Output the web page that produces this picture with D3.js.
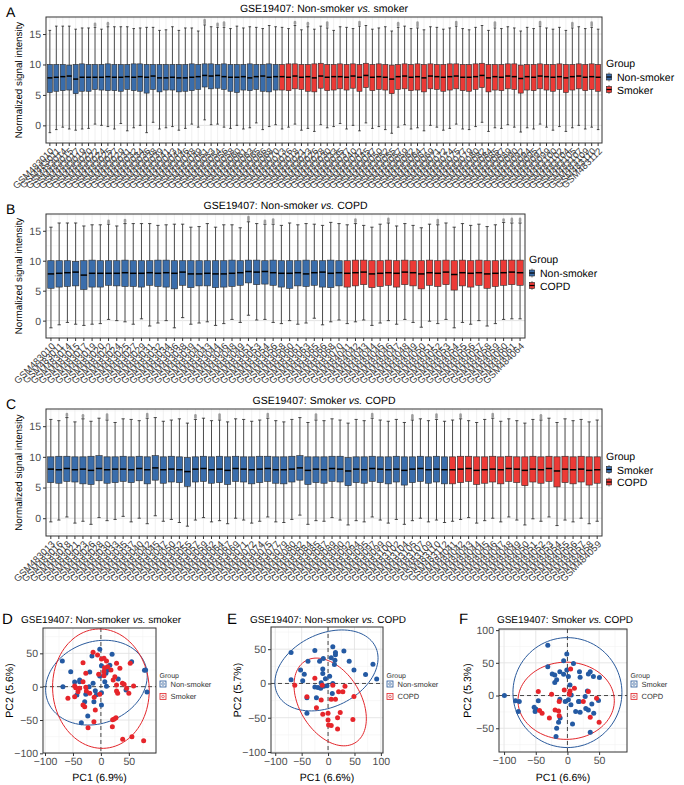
<!DOCTYPE html>
<html>
<head>
<meta charset="utf-8">
<script src="https://cdn.jsdelivr.net/npm/d3@7"></script>
<style>
  body { margin: 0; background: #fff; -webkit-font-smoothing: antialiased; }
  svg text { font-family: "Liberation Sans", Arial, sans-serif; text-rendering: geometricPrecision; }
</style>
</head>
<body>
<div id="chart"></div>
<script>
// ---- sample ids ----
var nonSmokerIds = ["GSM483010","GSM483011","GSM483014","GSM483015","GSM483017","GSM483019","GSM483020","GSM483022","GSM483024","GSM483025",
  "GSM483027","GSM483029","GSM483031","GSM483032","GSM483034","GSM483036","GSM483038","GSM483039","GSM483041","GSM483043",
  "GSM483044","GSM483046","GSM483048","GSM483049","GSM483051","GSM483053","GSM483054","GSM483056","GSM483058","GSM483060",
  "GSM483061","GSM483063","GSM483065","GSM483066","GSM483068","GSM483070"];
var smokerIds = ["GSM483013","GSM483016","GSM483018","GSM483021","GSM483023","GSM483026","GSM483028","GSM483030","GSM483033","GSM483035",
  "GSM483037","GSM483040","GSM483042","GSM483045","GSM483047","GSM483050","GSM483052","GSM483055","GSM483057","GSM483059",
  "GSM483062","GSM483064","GSM483067","GSM483069","GSM483071","GSM483072","GSM483074","GSM483075","GSM483077","GSM483079",
  "GSM483080","GSM483082","GSM483084","GSM483085","GSM483087","GSM483089","GSM483090","GSM483092","GSM483094","GSM483095",
  "GSM483097","GSM483099","GSM483100","GSM483102","GSM483104","GSM483105","GSM483107","GSM483109","GSM483110","GSM483112"];
var copdIds = ["GSM484041","GSM484042","GSM484043","GSM484044","GSM484045","GSM484046","GSM484047","GSM484048","GSM484049","GSM484050",
  "GSM484051","GSM484052","GSM484053","GSM484054","GSM484055","GSM484056","GSM484057","GSM484058","GSM484059","GSM484060",
  "GSM484061","GSM484064"];
var copdInPanelC = 19; // panel C shows fewer COPD arrays

// ---- box stats per sample (median, Q1, Q3, whisker low, whisker high, top outlier) ----
var nsMed = [7.8,7.9,8.0,8.1,7.6,7.9,7.9,7.9,7.9,8.0, 7.9,7.9,8.0,7.9,8.0,7.9,8.1,7.8,7.8,7.9, 7.8,7.8,7.9,8.0,8.2,8.1,8.2,8.0,7.9,7.9, 8.0,7.8,8.0,8.1,7.9,8.0];
var nsQ1  = [5.4,5.6,5.7,5.8,5.2,5.6,5.6,5.9,5.8,5.7, 5.7,5.6,5.9,5.7,5.6,5.3,5.9,5.5,5.8,5.8, 5.5,5.6,5.7,5.9,6.3,6.0,6.1,5.9,5.6,5.4, 5.8,5.7,5.9,5.6,5.5,5.8];
var nsQ3  = [10.0,10.0,10.0,9.9,10.0,10.1,10.0,10.0,10.0,10.1, 10.0,10.0,10.0,10.1,10.1,10.0,10.0,10.0,10.0,10.0, 10.0,10.0,10.1,10.0,10.1,10.1,10.0,10.1,10.0,10.0, 10.0,10.1,10.0,10.0,10.1,10.0];
var nsLo  = [-1.2,-0.7,-0.3,-0.6,-0.8,-0.6,-0.5,0.2,0.0,-0.2, -0.6,0.3,-0.9,-0.4,0.0,-1.2,0.5,-0.6,-0.4,-0.2, -0.8,-0.5,0.2,-0.3,0.9,0.1,0.2,-0.3,-0.5,0.0, -0.6,-0.4,0.4,-0.7,-0.2,0.1];
var nsHi  = [15.6,16.3,16.3,16.3,15.8,16.0,16.0,16.1,15.8,16.2, 16.2,16.2,16.2,15.9,16.0,16.1,16.1,15.6,15.7,16.2, 15.6,16.0,16.0,15.5,16.5,16.2,16.1,16.1,15.9,16.3, 16.0,16.2,16.1,15.9,16.4,16.2];
var nsOut = [0,0,0,0,0,0,0,16.6,0,16.7, 0,0,0,0,0,0,0,0,0,0, 0,0,0,0,17.2,0,16.6,16.8,0,0, 0,0,0,0,0,0];

var smMed = [8.0,7.9,8.1,7.9,8.0,7.8,8.1,7.9,8.0,8.0, 7.9,8.1,7.9,8.2,7.9,8.0,7.9,7.6,8.0,8.1, 7.9,8.0,7.8,8.1,8.0,7.9,8.0,8.1,7.9,7.9, 8.0,8.2,7.8,8.0,7.9,8.1,8.0,7.7,8.0,7.9, 8.1,8.0,7.9,8.0,7.8,8.0,8.1,7.9,8.0,7.9];
var smQ1  = [5.8,5.7,6.0,5.9,5.6,5.5,6.1,5.7,5.8,6.0, 5.8,6.1,5.6,6.2,5.7,5.9,5.8,5.2,5.9,6.0, 5.7,5.8,5.5,6.0,5.9,5.6,5.8,6.0,5.7,5.6, 5.9,6.2,5.5,5.8,5.7,6.0,5.9,5.3,5.8,5.7, 6.0,5.8,5.6,5.9,5.4,5.8,6.0,5.7,5.9,5.6];
var smQ3  = [10.0,10.1,10.1,10.0,10.0,10.1,10.2,10.0,10.0,10.1, 10.0,10.1,10.0,10.2,10.0,10.1,10.0,9.9,10.0,10.1, 10.0,10.1,10.0,10.1,10.0,10.0,10.1,10.1,10.0,10.0, 10.1,10.2,10.0,10.0,10.0,10.1,10.1,9.9,10.0,10.0, 10.1,10.0,10.0,10.1,10.0,10.0,10.1,10.0,10.1,10.0];
var smLo  = [-0.6,-0.3,0.2,-0.8,-0.5,-1.0,0.1,-0.4,-0.2,0.3, -0.6,0.0,-0.9,0.4,-0.5,-0.2,-0.7,-1.3,-0.3,0.1, -0.6,-0.4,-0.9,0.0,-0.3,-0.8,-0.5,0.2,-0.6,-0.7, -0.2,0.5,-1.0,-0.4,-0.5,0.1,-0.3,-1.1,-0.4,-0.6, 0.2,-0.3,-0.8,-0.2,-1.0,-0.4,0.0,-0.6,-0.3,-0.7];
var smHi  = [16.1,15.9,16.4,15.7,16.2,15.8,16.3,16.0,15.6,16.2, 16.1,15.9,16.3,16.4,15.8,16.0,16.2,15.5,16.1,16.3, 15.9,16.0,15.7,16.2,16.1,15.8,16.0,16.3,15.9,15.7, 16.1,16.4,15.6,16.0,15.9,16.2,16.0,15.5,16.1,15.9, 16.3,16.0,15.8,16.1,15.6,16.0,16.2,15.9,16.1,15.8];
var smOut = [0,0,16.9,0,16.7,0,0,16.8,0,0, 0,0,16.9,0,0,0,0,0,16.7,0, 0,16.8,0,0,0,0,0,16.9,0,0, 0,0,0,16.8,0,0,0,0,0,0, 16.9,0,0,0,0,16.7,0,0,16.8,0];

var cpMed = [7.9,8.0,8.1,7.8,7.9,8.0,7.9,8.1,8.0,7.8, 8.0,7.9,8.1,7.7,8.0,7.9,8.0,7.8,7.9,8.0, 8.1,8.0];
var cpQ1  = [5.6,5.8,6.0,5.5,5.7,5.9,5.6,6.0,5.8,5.3, 5.9,5.7,6.0,5.1,5.8,5.6,5.9,5.4,5.7,5.9, 6.0,5.9];
var cpQ3  = [10.0,10.1,10.1,10.0,10.0,10.1,10.0,10.1,10.0,10.0, 10.1,10.0,10.1,10.0,10.1,10.0,10.1,10.0,10.0,10.1, 10.1,10.1];
var cpLo  = [-0.5,-0.2,0.1,-0.8,-0.4,0.0,-0.6,0.2,-0.3,-1.1, -0.1,-0.5,0.2,-1.2,-0.3,-0.6,0.0,-0.9,-0.5,0.2, 0.3,0.3];
var cpHi  = [16.0,16.2,15.9,15.6,16.1,16.3,15.8,16.2,15.9,15.5, 16.1,16.0,16.3,15.6,16.2,15.9,16.1,15.7,16.0,16.4, 16.3,16.3];
var cpOut = [0,16.8,0,0,0,16.9,0,0,0,0, 0,16.7,0,0,0,0,0,0,0,16.8, 16.9,16.9];

var boxYTicks = [0, 5, 10, 15];
var boxYMinor = [-2.5, 2.5, 7.5, 12.5, 17.5];

// ---- PCA scores (PC1, PC2) ----
var pcaDNonSmoker = [[-69,38.5],[-2,56],[-16,46],[20,48.5],[1,31.5],[7,25],[13,25],[-54,22.5],[-38,10],[-38,7.5],
  [-68,0],[-43,-12.5],[-27,-11.5],[-35,-54],[-23.5,-44],[1,-27.5],[1,-9],[-14,5],[-12.5,-22.5],[-29,-22.5],
  [55,37.5],[78,24.5],[82.5,-8],[45,-5],[31,11.5],[7,7.5],[10,0.5],[-2,16],[-20,22],[-10,-6],
  [-21,0],[16,32],[-47,7],[-8,-12],[9,20],[80,25]];
var pcaDSmoker = [[-14,51.5],[-6,47.5],[1,41.5],[5.5,42.5],[10,38.5],[-32,36],[-27,20],[-4,18.5],[6.5,28.5],[5.5,16.5],
  [28,35],[52.5,35],[25,15],[28,2.5],[38.5,5],[41.5,3.5],[58.5,1],[50,-10],[28,-6.5],[30,-10],
  [12,30],[18,25],[-59,-17.5],[-47,1],[-45,-1.5],[-38,-2.5],[-41,-7.5],[-27,-1],[-26,-6.5],[-12,-16],
  [-32,-27.5],[-29,-30],[-10,-35],[-12.5,-52.5],[-23,-61.5],[21,-49.5],[27,-46.5],[24,-48.5],[20.5,-60],[39,-79],
  [55.5,-75],[76.5,-81],[-2,-11.5],[-32,7.5],[5.5,22.5],[34,27.5],[-20,-10],[22,10],[-47,-15],[46,-2.5]];
var pcaENonSmoker = [[-70,45],[-38,32.5],[-25,48],[9,53.5],[14,45],[14,42],[6,37.5],[13,34],[12,27.5],[30,47.5],
  [40,32.5],[85,28],[49,19.5],[71,13],[92,6.5],[-52,19.5],[-45,13.5],[-48,4],[-70,5.5],[-10,21],
  [-10,14.5],[-5,7],[-25,-5],[-19,-6],[-14,-7],[-8,-4],[-13,1],[-2,-3.5],[8,-14.5],[-40,-21],
  [-22,-21],[-40,-43.5],[3,10.5],[-16,32.5],[9,0],[-9,36.5]];
var pcaECopd = [[-63,-2.5],[-25,7.5],[-40,-19.5],[-11,-2.5],[9,-2.5],[-13,-24],[-22,-35.5],[-10,-45],[0,-43.5],[0,-53.5],
  [1,-60.5],[6,-61.5],[18,-66.5],[23,-42.5],[18,-50],[20,-12],[28,-12],[14,-23],[6,-23],[32,-4],
  [47,-52.5],[49,-19]];
var pcaFSmoker = [[-31,77],[-1,63.5],[-6,53],[9.5,49],[-1,39],[-31,44],[-24,33],[-20,31.5],[-12,36.5],[-6,32.5],
  [-17,24],[-20,20],[1.5,29],[19,36.5],[33,33],[36,36.5],[41,29],[50.5,27.5],[20,28],[4,16],
  [31.5,7],[6,1],[1.5,-6.5],[5.5,-14],[17.5,-9],[13,-24.5],[20,-25.5],[29,-20],[33,-22],[41.5,-27],
  [49,-7.5],[38.5,-13],[-12,-5.5],[-46,-8],[-49.5,-21],[-51,-24.5],[-76,-9],[-77.5,-24.5],[-82,-8],[-99.5,0],
  [-52.5,-18],[-11.5,-34.5],[-14,-41],[-17,-50],[-18,-62.5],[8,-43.5],[36,-56],[18.5,-9],[28,-1.5],[-3.5,-9]];
var pcaFCopd = [[5,40.5],[-5,8.5],[4,7],[11,11],[-46,6],[-25,2],[33,6],[-44,-23],[-40,-27],[-19.5,-22],
  [-14,-23.5],[-28.5,-34.5],[-13,-31],[3,2],[25,-9],[36,-33],[46,-4],[50,-41],[-13,-9]];

// 95% ellipses: [centre x, centre y, semi-axis a, semi-axis b, angle deg]
var ellDNonSmoker = [-8, 6, 92, 62, 12];
var ellDSmoker    = [0, -3, 90, 86, -70];
var ellENonSmoker = [-3, 19, 100, 55, 15];
var ellECopd      = [4, -27, 78, 52, -40];
var ellFSmoker    = [0, 4.5, 86, 84, 0];
var ellFCopd      = [-2, -8, 76, 59, 0];

var blue = "#3a6dab", red = "#ec3a36";
var ptBlue = "#245aa3", ptRed = "#e6252b";

var svg = d3.select("#chart").append("svg")
  .attr("width", 684)
  .attr("height", 785);

function pack(ids, med, q1, q3, lo, hi, out, grp) {
  return ids.map(function (id, i) {
    return { id: id, grp: grp, med: med[i], q1: q1[i], q3: q3[i], lo: lo[i], hi: hi[i], out: out[i] };
  });
}
var nsBoxes = pack(nonSmokerIds, nsMed, nsQ1, nsQ3, nsLo, nsHi, nsOut, 0);
var smBoxes = pack(smokerIds, smMed, smQ1, smQ3, smLo, smHi, smOut, 0);
var cpBoxes = pack(copdIds, cpMed, cpQ1, cpQ3, cpLo, cpHi, cpOut, 1);

function title(x, y, pre, post, size) {
  var t = svg.append("text")
    .attr("x", x).attr("y", y)
    .attr("text-anchor", "middle")
    .style("font-size", size + "px");
  t.append("tspan").text(pre);
  t.append("tspan").style("font-style", "italic").text("vs.");
  t.append("tspan").text(post);
}

function styleAxis(ax, size, fill) {
  ax.select(".domain").remove();
  ax.selectAll(".tick line").attr("stroke", "#333");
  ax.selectAll(".tick text").attr("fill", fill || "#4d4d4d").style("font-size", size + "px")
    .style("font-family", "'Liberation Sans', Arial, sans-serif");
}

function boxPanel(cfg) {
  var samples = cfg.samples;
  var g = svg.append("g");
  var x = d3.scaleBand()
    .domain(samples.map(function (d) { return d.id; }))
    .range([cfg.left, cfg.right])
    .paddingInner(0)
    .paddingOuter(0.1);
  var y = d3.scaleLinear().domain([-2.9, 17.8]).range([cfg.bottom, cfg.top]);
  var bw = x.step();
  var cx = function (d) { return x(d.id) + bw / 2; };
  var col = function (d) { return d.grp === 0 ? cfg.colors[0] : cfg.colors[1]; };

  // grid
  g.selectAll(".minor").data(boxYMinor).join("line")
    .attr("x1", cfg.left).attr("x2", cfg.right)
    .attr("y1", function (d) { return y(d); }).attr("y2", function (d) { return y(d); })
    .attr("stroke", "#f0f0f0").attr("stroke-width", 0.6);
  g.selectAll(".major").data(boxYTicks).join("line")
    .attr("x1", cfg.left).attr("x2", cfg.right)
    .attr("y1", function (d) { return y(d); }).attr("y2", function (d) { return y(d); })
    .attr("stroke", "#e3e3e3").attr("stroke-width", 1);
  g.selectAll(".vgrid").data(samples).join("line")
    .attr("x1", cx).attr("x2", cx)
    .attr("y1", cfg.top).attr("y2", cfg.bottom)
    .attr("stroke", "#ececec").attr("stroke-width", 0.8);

  var b = g.selectAll(".bx").data(samples).join("g");
  // outliers
  b.filter(function (d) { return d.out > 0; }).append("rect")
    .attr("x", function (d) { return cx(d) - 1.3; })
    .attr("width", 2.6)
    .attr("y", function (d) { return y(d.out + 0.3); })
    .attr("height", function (d) { return y(d.hi + 0.1) - y(d.out + 0.3); })
    .attr("rx", 1.3)
    .attr("fill", "#555").attr("fill-opacity", 0.55);
  // whiskers
  b.append("line")
    .attr("x1", cx).attr("x2", cx)
    .attr("y1", function (d) { return y(d.hi); })
    .attr("y2", function (d) { return y(d.lo); })
    .attr("stroke", "#222").attr("stroke-width", 0.8);
  b.append("line")
    .attr("x1", function (d) { return cx(d) - bw * 0.2; })
    .attr("x2", function (d) { return cx(d) + bw * 0.2; })
    .attr("y1", function (d) { return y(d.hi); }).attr("y2", function (d) { return y(d.hi); })
    .attr("stroke", "#222").attr("stroke-width", 0.8);
  b.append("line")
    .attr("x1", function (d) { return cx(d) - bw * 0.2; })
    .attr("x2", function (d) { return cx(d) + bw * 0.2; })
    .attr("y1", function (d) { return y(d.lo); }).attr("y2", function (d) { return y(d.lo); })
    .attr("stroke", "#222").attr("stroke-width", 0.8);
  b.append("rect")
    .attr("x", function (d) { return cx(d) - bw * 0.39; })
    .attr("width", bw * 0.78)
    .attr("y", function (d) { return y(d.q3); })
    .attr("height", function (d) { return y(d.q1) - y(d.q3); })
    .attr("fill", col)
    .attr("stroke", "#2b2b2b").attr("stroke-width", 0.6);
  b.append("line")
    .attr("x1", function (d) { return cx(d) - bw * 0.39; })
    .attr("x2", function (d) { return cx(d) + bw * 0.39; })
    .attr("y1", function (d) { return y(d.med); }).attr("y2", function (d) { return y(d.med); })
    .attr("stroke", "#000").attr("stroke-width", 1.5);

  g.append("rect")
    .attr("x", cfg.left).attr("y", cfg.top)
    .attr("width", cfg.right - cfg.left).attr("height", cfg.bottom - cfg.top)
    .attr("fill", "none").attr("stroke", "#333").attr("stroke-width", 1);

  var ya = g.append("g").attr("transform", "translate(" + cfg.left + ",0)")
    .call(d3.axisLeft(y).tickValues(boxYTicks).tickSize(3).tickPadding(2));
  styleAxis(ya, 10.5);

  var xa = g.append("g").attr("transform", "translate(0," + cfg.bottom + ")")
    .style("opacity", 0.999)
    .call(d3.axisBottom(x).tickSize(3));
  styleAxis(xa, 9.5, "#3a3a3a");
  xa.selectAll(".tick text")
    .attr("x", 0).attr("y", 0)
    .attr("dy", "0.7em")
    .attr("transform", "translate(0,4) rotate(-45)")
    .style("text-anchor", "end");

  svg.append("text")
    .attr("transform", "translate(22," + (cfg.top + cfg.bottom) / 2 + ") rotate(-90)")
    .attr("text-anchor", "middle")
    .style("font-size", "9.8px")
    .text("Normalized signal intensity");

  title((cfg.left + cfg.right) / 2, cfg.top - 5, cfg.title[0], cfg.title[1], 10.5);
  svg.append("text").attr("x", 6).attr("y", cfg.top).style("font-size", "14px").text(cfg.letter);

  // legend
  var lg = svg.append("g").attr("transform", "translate(" + (cfg.right + 4) + "," + ((cfg.top + cfg.bottom) / 2 - 16) + ")");
  lg.append("text").attr("x", 0).attr("y", 3).style("font-size", "10.5px").text("Group");
  cfg.legend.forEach(function (lab, i) {
    var ky = 13 + i * 12.5;
    var k = lg.append("g").attr("transform", "translate(3," + ky + ")");
    k.append("line").attr("x1", 0).attr("x2", 0).attr("y1", -4.5).attr("y2", 4.5).attr("stroke", "#222").attr("stroke-width", 0.6);
    k.append("rect").attr("x", -2.6).attr("y", -3).attr("width", 5.2).attr("height", 6)
      .attr("fill", cfg.colors[i]).attr("stroke", "#222").attr("stroke-width", 0.6);
    k.append("line").attr("x1", -2.6).attr("x2", 2.6).attr("y1", 0).attr("y2", 0).attr("stroke", "#000").attr("stroke-width", 1.2);
    lg.append("text").attr("x", 11).attr("y", ky + 4).style("font-size", "10.5px").text(lab);
  });
}

boxPanel({
  samples: nsBoxes.concat(smBoxes.map(function (d) { return Object.assign({}, d, { grp: 1 }); })),
  left: 46, right: 602, top: 17, bottom: 143,
  colors: [blue, red], legend: ["Non-smoker", "Smoker"],
  title: ["GSE19407: Non-smoker ", " smoker"], letter: "A"
});
boxPanel({
  samples: nsBoxes.concat(cpBoxes),
  left: 46, right: 525, top: 214, bottom: 338,
  colors: [blue, red], legend: ["Non-smoker", "COPD"],
  title: ["GSE19407: Non-smoker ", " COPD"], letter: "B"
});
boxPanel({
  samples: smBoxes.concat(cpBoxes.slice(0, copdInPanelC)),
  left: 46, right: 602, top: 409, bottom: 536,
  colors: [blue, red], legend: ["Smoker", "COPD"],
  title: ["GSE19407: Smoker ", " COPD"], letter: "C"
});

// ---- PCA panels ----
function minorOf(ticks, dom) {
  var st = ticks[1] - ticks[0], out = [];
  for (var i = -1; i < ticks.length; i++) {
    var v = (i < 0 ? ticks[0] : ticks[i]) + (i < 0 ? -st / 2 : st / 2);
    if (v > dom[0] && v < dom[1]) out.push(v);
  }
  return out;
}

function pcaPanel(cfg) {
  var g = svg.append("g");
  var x = d3.scaleLinear().domain(cfg.xDom).range([cfg.left, cfg.right]);
  var y = d3.scaleLinear().domain(cfg.yDom).range([cfg.bottom, cfg.top]);
  var clipId = "clip" + cfg.letter;
  svg.append("clipPath").attr("id", clipId).append("rect")
    .attr("x", cfg.left).attr("y", cfg.top)
    .attr("width", cfg.right - cfg.left).attr("height", cfg.bottom - cfg.top);

  var xm = minorOf(cfg.xTicks, cfg.xDom), ym = minorOf(cfg.yTicks, cfg.yDom);
  g.selectAll(".xm").data(xm).join("line")
    .attr("x1", x).attr("x2", x).attr("y1", cfg.top).attr("y2", cfg.bottom)
    .attr("stroke", "#f0f0f0").attr("stroke-width", 0.5);
  g.selectAll(".ym").data(ym).join("line")
    .attr("y1", y).attr("y2", y).attr("x1", cfg.left).attr("x2", cfg.right)
    .attr("stroke", "#f0f0f0").attr("stroke-width", 0.5);
  g.selectAll(".xg").data(cfg.xTicks).join("line")
    .attr("x1", x).attr("x2", x).attr("y1", cfg.top).attr("y2", cfg.bottom)
    .attr("stroke", "#e3e3e3").attr("stroke-width", 0.9);
  g.selectAll(".yg").data(cfg.yTicks).join("line")
    .attr("y1", y).attr("y2", y).attr("x1", cfg.left).attr("x2", cfg.right)
    .attr("stroke", "#e3e3e3").attr("stroke-width", 0.9);

  var inner = g.append("g").attr("clip-path", "url(#" + clipId + ")");
  inner.append("line").attr("x1", x(0)).attr("x2", x(0)).attr("y1", cfg.top).attr("y2", cfg.bottom)
    .attr("stroke", "#333").attr("stroke-width", 0.9).attr("stroke-dasharray", "4,3");
  inner.append("line").attr("y1", y(0)).attr("y2", y(0)).attr("x1", cfg.left).attr("x2", cfg.right)
    .attr("stroke", "#333").attr("stroke-width", 0.9).attr("stroke-dasharray", "4,3");

  var line = d3.line().x(function (p) { return x(p[0]); }).y(function (p) { return y(p[1]); });
  cfg.groups.forEach(function (gr) {
    var e = gr.ell, th = e[4] * Math.PI / 180;
    var pts = d3.range(0, 101).map(function (k) {
      var t = k / 100 * 2 * Math.PI;
      return [e[0] + e[2] * Math.cos(t) * Math.cos(th) - e[3] * Math.sin(t) * Math.sin(th),
              e[1] + e[2] * Math.cos(t) * Math.sin(th) + e[3] * Math.sin(t) * Math.cos(th)];
    });
    inner.append("path").attr("d", line(pts)).attr("fill", "none")
      .attr("stroke", gr.line).attr("stroke-width", 1);
  });
  cfg.groups.forEach(function (gr) {
    inner.selectAll(null).data(gr.pts).join("circle")
      .attr("cx", function (p) { return x(p[0]); })
      .attr("cy", function (p) { return y(p[1]); })
      .attr("r", 2.5)
      .attr("fill", gr.color);
  });

  g.append("rect")
    .attr("x", cfg.left).attr("y", cfg.top)
    .attr("width", cfg.right - cfg.left).attr("height", cfg.bottom - cfg.top)
    .attr("fill", "none").attr("stroke", "#333").attr("stroke-width", 1);

  var xa = g.append("g").attr("transform", "translate(0," + cfg.bottom + ")")
    .call(d3.axisBottom(x).tickValues(cfg.xTicks).tickSize(3).tickPadding(2));
  styleAxis(xa, 10.5);
  var ya = g.append("g").attr("transform", "translate(" + cfg.left + ",0)")
    .call(d3.axisLeft(y).tickValues(cfg.yTicks).tickSize(3).tickPadding(2));
  styleAxis(ya, 10.5);

  svg.append("text").attr("x", (cfg.left + cfg.right) / 2).attr("y", 781)
    .attr("text-anchor", "middle").style("font-size", "10.5px").text(cfg.xTitle);
  svg.append("text")
    .attr("transform", "translate(" + cfg.yTitleX + "," + (cfg.top + cfg.bottom) / 2 + ") rotate(-90)")
    .attr("text-anchor", "middle").style("font-size", "10.5px").text(cfg.yTitle);

  title(cfg.titleX, 623, cfg.title[0], cfg.title[1], 10);
  svg.append("text").attr("x", cfg.letterX).attr("y", 624).style("font-size", "15px").text(cfg.letter);

  var lg = svg.append("g").attr("transform", "translate(" + (cfg.right + 3.5) + ",0)");
  lg.append("text").attr("x", 0).attr("y", 678).style("font-size", "7px").attr("fill", "#333").text("Group");
  cfg.groups.forEach(function (gr, i) {
    var ky = 684 + i * 12.5;
    lg.append("rect").attr("x", 0.5).attr("y", ky - 3).attr("width", 6).attr("height", 6)
      .attr("fill", "#f4f4f4").attr("stroke", gr.line).attr("stroke-width", 0.8);
    lg.append("circle").attr("cx", 3.5).attr("cy", ky).attr("r", 1.3)
      .attr("fill", "none").attr("stroke", gr.color).attr("stroke-width", 0.6);
    lg.append("text").attr("x", 11).attr("y", ky + 2.6).style("font-size", "7.5px").attr("fill", "#333").text(gr.label);
  });
}

pcaPanel({
  letter: "D", letterX: 2, titleX: 101, title: ["GSE19407: Non-smoker ", " smoker"],
  left: 43, right: 156, top: 628, bottom: 753,
  xDom: [-103.6, 98.6], yDom: [-99.5, 88],
  xTicks: [-100, -50, 0, 50], yTicks: [-100, -50, 0, 50],
  xTitle: "PC1 (6.9%)", yTitle: "PC2 (5.6%)", yTitleX: 13,
  groups: [
    { label: "Non-smoker", color: ptBlue, line: "#2a5a9c", pts: pcaDNonSmoker, ell: ellDNonSmoker },
    { label: "Smoker", color: ptRed, line: "#e3262b", pts: pcaDSmoker, ell: ellDSmoker }
  ]
});
pcaPanel({
  letter: "E", letterX: 227, titleX: 328, title: ["GSE19407: Non-smoker ", " COPD"],
  left: 271, right: 383, top: 627, bottom: 753,
  xDom: [-108, 104], yDom: [-101.5, 82.4],
  xTicks: [-100, -50, 0, 50, 100], yTicks: [-100, -50, 0, 50],
  xTitle: "PC1 (6.6%)", yTitle: "PC2 (5.7%)", yTitleX: 241,
  groups: [
    { label: "Non-smoker", color: ptBlue, line: "#2a5a9c", pts: pcaENonSmoker, ell: ellENonSmoker },
    { label: "COPD", color: ptRed, line: "#e3262b", pts: pcaECopd, ell: ellECopd }
  ]
});
pcaPanel({
  letter: "F", letterX: 459, titleX: 565, title: ["GSE19407: Smoker ", " COPD"],
  left: 499, right: 627, top: 629, bottom: 752,
  xDom: [-108, 94], yDom: [-86.3, 101.7],
  xTicks: [-100, -50, 0, 50], yTicks: [-50, 0, 50, 100],
  xTitle: "PC1 (6.6%)", yTitle: "PC2 (5.3%)", yTitleX: 471,
  groups: [
    { label: "Smoker", color: ptBlue, line: "#2a5a9c", pts: pcaFSmoker, ell: ellFSmoker },
    { label: "COPD", color: ptRed, line: "#e3262b", pts: pcaFCopd, ell: ellFCopd }
  ]
});
</script>
</body>
</html>
